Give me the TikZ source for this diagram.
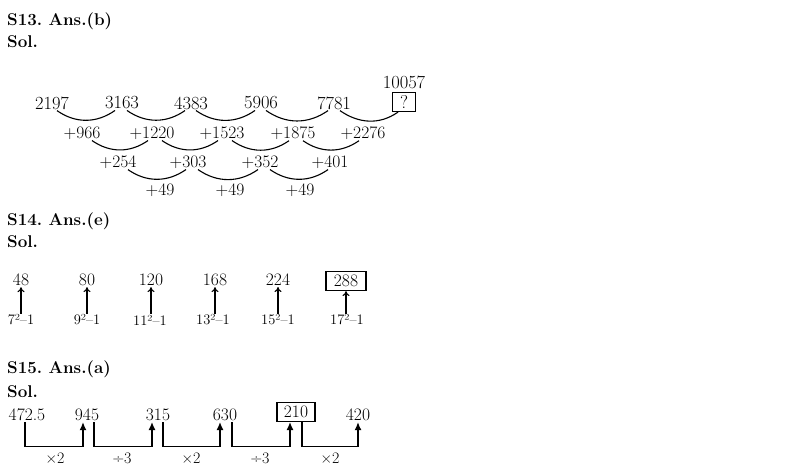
\documentclass[tikz,border=0pt]{standalone}
\usetikzlibrary{arrows.meta}
\frenchspacing
\begin{document}
\begin{tikzpicture}[x=1pt,y=1pt,
    num/.style={font=\fontsize{18.5}{21}\selectfont, inner sep=1pt},
    diff/.style={font=\fontsize{17.5}{20}\selectfont, inner sep=1pt},
    head/.style={font=\fontsize{17}{20}\selectfont\bfseries, anchor=base west, inner sep=0pt},
    sqlabel/.style={font=\fontsize{14.5}{16}\selectfont, inner sep=1pt},
    oplabel/.style={font=\fontsize{16}{18}\selectfont, inner sep=1pt},
    ansbox/.style={draw, line width=1.2pt, inner sep=1pt, minimum height=19pt},
    curve/.style={line width=1.1pt},
    dip/.style={out=-35, in=-145},
    uparrow/.style={-{To[length=5pt,width=7pt]}, line width=1.1pt},
    bracket/.style={-{Latex[length=8pt,width=7pt]}, line width=1.1pt}]
  \useasboundingbox (0,0) rectangle (805,-475);

  % S13 heading
  \node[head] (h13) at (7,-25) {S13. Ans.(b)};
  \node[head] (s13) at (7,-47) {Sol.};
  % First row of the series
  \node[num] (a1) at (52,-103) {2197};
  \node[num] (a2) at (122,-103) {3163};
  \node[num] (a3) at (191,-103) {4383};
  \node[num] (a4) at (261,-103) {5906};
  \node[num] (a5) at (334,-103) {7781};
  \node[num, ansbox, minimum width=23pt] (a6) at (404,-102) {?};
  \node[num] (ans13) at (404,-82) {10057};
  % First differences
  \node[diff] (b1) at (82,-133) {+966};
  \node[diff] (b2) at (152,-133) {+1220};
  \node[diff] (b3) at (222,-133) {+1523};
  \node[diff] (b4) at (293,-133) {+1875};
  \node[diff] (b5) at (363,-133) {+2276};
  % Second differences
  \node[diff] (c1) at (118,-162) {+254};
  \node[diff] (c2) at (188,-162) {+303};
  \node[diff] (c3) at (260,-162) {+352};
  \node[diff] (c4) at (330,-162) {+401};
  % Third differences
  \node[diff] (d1) at (160,-190) {+49};
  \node[diff] (d2) at (230,-190) {+49};
  \node[diff] (d3) at (300,-190) {+49};
  % Curves under the first row
  \draw[curve] ([xshift=5pt]a1.south) to[dip] ([xshift=-7pt]a2.south);
  \draw[curve] ([xshift=5pt]a2.south) to[dip] ([xshift=-6pt]a3.south);
  \draw[curve] ([xshift=5pt]a3.south) to[dip] ([xshift=-6pt]a4.south);
  \draw[curve] ([xshift=5pt]a4.south) to[dip] ([xshift=-6pt]a5.south);
  \draw[curve] ([xshift=6pt]a5.south) to[dip] ([xshift=-6pt]a6.south);
  % Curves under the first differences
  \draw[curve] ([xshift=10pt]b1.south) to[dip] ([xshift=-4pt]b2.south);
  \draw[curve] ([xshift=10pt]b2.south) to[dip] ([xshift=-4pt]b3.south);
  \draw[curve] ([xshift=10pt]b3.south) to[dip] ([xshift=-4pt]b4.south);
  \draw[curve] ([xshift=10pt]b4.south) to[dip] ([xshift=-4pt]b5.south);
  % Curves under the second differences
  \draw[curve] ([xshift=10pt]c1.south) to[dip] ([xshift=-2pt]c2.south);
  \draw[curve] ([xshift=10pt]c2.south) to[dip] ([xshift=-2pt]c3.south);
  \draw[curve] ([xshift=10pt]c3.south) to[dip] ([xshift=-2pt]c4.south);

  % S14 heading
  \node[head] (h14) at (7,-225) {S14. Ans.(e)};
  \node[head] (s14) at (7,-247) {Sol.};
  % Terms of the series
  \node[diff] (t1) at (21,-280) {48};
  \node[diff] (t2) at (87,-280) {80};
  \node[diff] (t3) at (151,-280) {120};
  \node[diff] (t4) at (215,-280) {168};
  \node[diff] (t5) at (278,-280) {224};
  \node[diff, ansbox, minimum width=40pt] (t6) at (346,-281) {288};
  % Squares minus one
  \node[sqlabel] (q1) at (21,-320) {7²–1};
  \node[sqlabel] (q2) at (87,-320) {9²–1};
  \node[sqlabel] (q3) at (150,-320) {11²–1};
  \node[sqlabel] (q4) at (213,-320) {13²–1};
  \node[sqlabel] (q5) at (278,-320) {15²–1};
  \node[sqlabel] (q6) at (347,-320) {17²–1};
  % Arrows up to the terms
  \draw[uparrow] (q1.north -| t1) -- (t1.south);
  \draw[uparrow] (q2.north -| t2) -- (t2.south);
  \draw[uparrow] (q3.north -| t3) -- (t3.south);
  \draw[uparrow] (q4.north -| t4) -- (t4.south);
  \draw[uparrow] (q5.north -| t5) -- (t5.south);
  \draw[uparrow] (q6.north -| t6) -- (t6.south);

  % S15 heading
  \node[head] (h15) at (7,-373) {S15. Ans.(a)};
  \node[head] (s15) at (7,-397) {Sol.};
  % Terms of the series
  \node[diff] (p1) at (27,-415) {472.5};
  \node[diff] (p2) at (87,-415) {945};
  \node[diff] (p3) at (158,-415) {315};
  \node[diff] (p4) at (225,-415) {630};
  \node[diff, ansbox, minimum width=38pt] (p5) at (296,-412) {210};
  \node[diff] (p6) at (358,-415) {420};
  % Operations
  \node[oplabel] (o1) at (55,-458) {×2};
  \node[oplabel] (o2) at (122,-458) {÷3};
  \node[oplabel] (o3) at (191,-458) {×2};
  \node[oplabel] (o4) at (260,-458) {÷3};
  \node[oplabel] (o5) at (330,-458) {×2};
  % Brackets from term to term
  \draw[bracket] ([xshift=-2pt]p1.south) -- ++(0,-24) -| ([xshift=-4pt]p2.south);
  \draw[bracket] ([xshift=7pt]p2.south) -- ++(0,-24) -| ([xshift=-6pt]p3.south);
  \draw[bracket] ([xshift=5pt]p3.south) -- ++(0,-24) -| ([xshift=-5pt]p4.south);
  \draw[bracket] ([xshift=7pt]p4.south) -- ++(0,-24) -| ([xshift=-6pt]p5.south);
  \draw[bracket] ([xshift=6pt]p5.south) -- ++(0,-24) -| (p6.south);
\end{tikzpicture}
\end{document}
